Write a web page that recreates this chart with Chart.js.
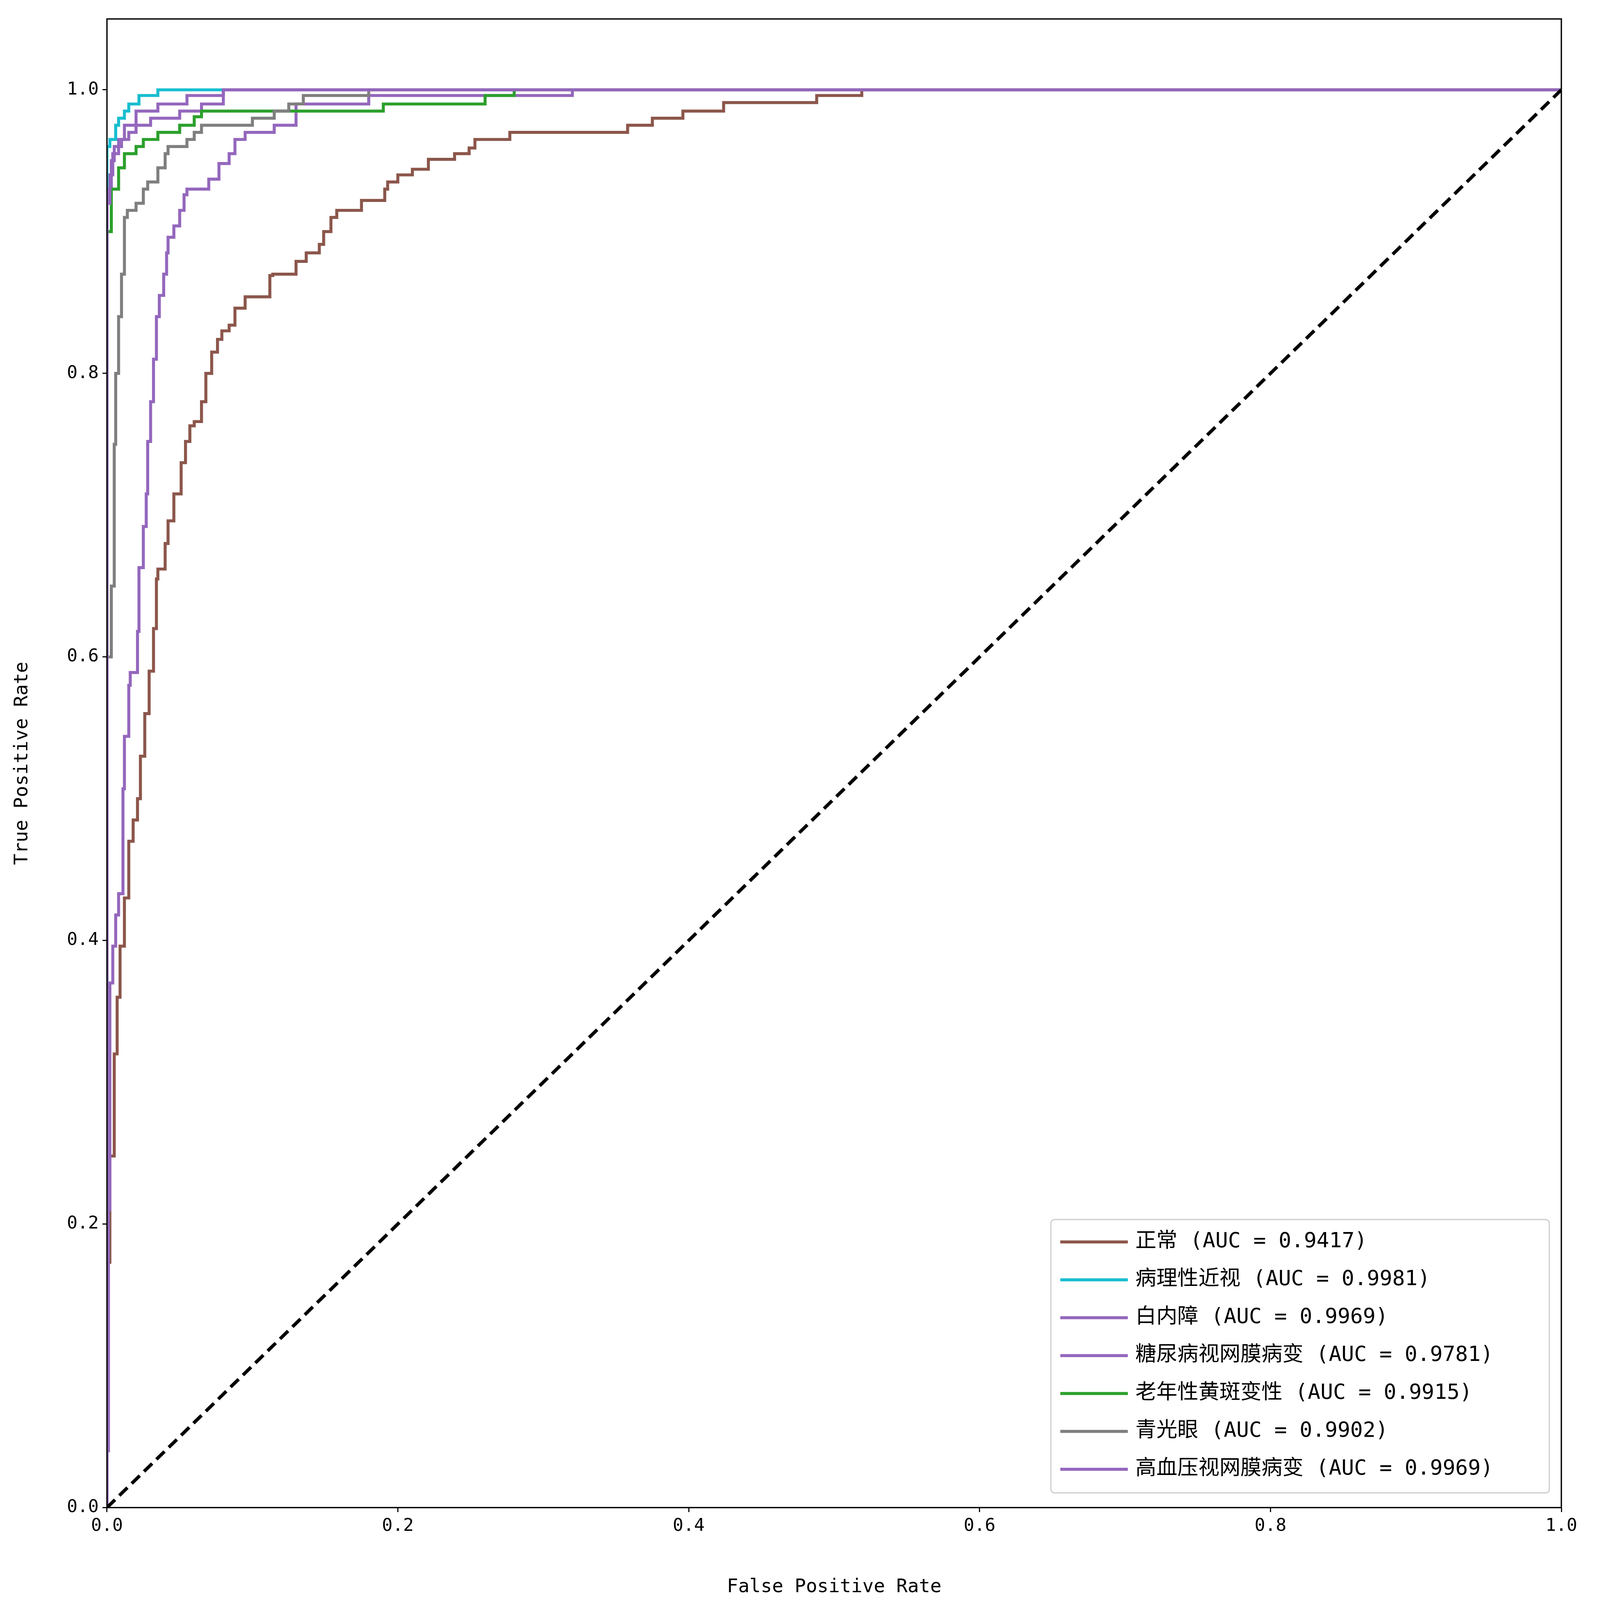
<!DOCTYPE html>
<html>
<head>
<meta charset="utf-8">
<script src="https://cdn.jsdelivr.net/npm/chart.js@4"></script>
<style>
  html, body { margin: 0; padding: 0; background: white; overflow: hidden; }
  canvas { display: block; }
</style>
</head>
<body>
<canvas id="myChart"></canvas>
<script>
// ROC points: [fpr, tpr]
const rocData = {
    '正常': { auc: 0.9417, color: '#8c564b', pts: [
        [0,0],[0.002,0.173],[0.005,0.248],[0.007,0.32],[0.009,0.36],[0.012,0.396],[0.015,0.43],[0.018,0.47],
        [0.021,0.485],[0.023,0.5],[0.026,0.53],[0.029,0.56],[0.032,0.59],[0.034,0.62],[0.035,0.655],
        [0.04,0.662],[0.042,0.68],[0.046,0.696],[0.051,0.715],[0.054,0.737],[0.057,0.752],[0.06,0.763],
        [0.065,0.766],[0.068,0.78],[0.072,0.8],[0.076,0.815],[0.079,0.824],[0.084,0.83],[0.088,0.834],
        [0.095,0.846],[0.112,0.854],[0.114,0.869],[0.13,0.87],[0.137,0.879],[0.146,0.885],[0.149,0.891],
        [0.154,0.9],[0.158,0.91],[0.175,0.915],[0.191,0.922],[0.193,0.93],[0.2,0.935],[0.21,0.94],
        [0.221,0.944],[0.239,0.951],[0.249,0.955],[0.253,0.959],[0.277,0.965],[0.358,0.97],[0.375,0.975],
        [0.396,0.98],[0.424,0.985],[0.488,0.991],[0.519,0.996],[0.807,1.0],[1,1]
    ]},
    '病理性近视': { auc: 0.9981, color: '#17becf', pts: [
        [0,0],[0,0.93],[0.002,0.96],[0.006,0.965],[0.008,0.975],[0.012,0.98],[0.015,0.985],
        [0.022,0.99],[0.035,0.996],[0.113,1.0],[1,1]
    ]},
    '白内障': { auc: 0.9969, color: '#9467bd', pts: [
        [0,0],[0,0.91],[0.003,0.93],[0.005,0.95],[0.01,0.96],[0.015,0.965],[0.02,0.97],[0.03,0.975],
        [0.05,0.98],[0.065,0.985],[0.08,0.99],[0.155,1.0],[1,1]
    ]},
    '糖尿病视网膜病变': { auc: 0.9781, color: '#9467bd', pts: [
        [0,0],[0.001,0.04],[0.002,0.21],[0.004,0.37],[0.006,0.396],[0.008,0.418],[0.011,0.433],
        [0.012,0.507],[0.015,0.544],[0.016,0.58],[0.021,0.589],[0.022,0.618],[0.025,0.663],[0.027,0.692],
        [0.028,0.715],[0.03,0.752],[0.032,0.78],[0.034,0.81],[0.036,0.84],[0.039,0.855],[0.041,0.87],
        [0.042,0.885],[0.046,0.896],[0.05,0.904],[0.053,0.915],[0.055,0.926],[0.07,0.93],[0.077,0.937],
        [0.084,0.948],[0.088,0.955],[0.095,0.965],[0.115,0.97],[0.13,0.975],[0.18,0.99],[0.32,0.996],[0.62,1.0],[1,1]
    ]},
    '老年性黄斑变性': { auc: 0.9915, color: '#2ca02c', pts: [
        [0,0],[0,0.66],[0.003,0.9],[0.008,0.93],[0.012,0.945],[0.02,0.955],[0.025,0.96],[0.035,0.965],
        [0.05,0.97],[0.06,0.975],[0.065,0.981],[0.19,0.985],[0.26,0.99],[0.28,0.996],[0.62,1.0],[1,1]
    ]},
    '青光眼': { auc: 0.9902, color: '#7f7f7f', pts: [
        [0,0],[0,0.42],[0.003,0.6],[0.005,0.65],[0.006,0.75],[0.008,0.8],[0.01,0.84],[0.012,0.87],
        [0.014,0.91],[0.02,0.915],[0.025,0.92],[0.028,0.93],[0.035,0.935],[0.04,0.945],[0.042,0.955],
        [0.055,0.96],[0.06,0.965],[0.065,0.97],[0.1,0.975],[0.115,0.98],[0.125,0.985],[0.135,0.99],
        [0.18,0.996],[0.32,1.0],[1,1]
    ]},
    '高血压视网膜病变': { auc: 0.9969, color: '#9467bd', pts: [
        [0,0],[0,0.8],[0.002,0.92],[0.004,0.94],[0.008,0.955],[0.012,0.965],[0.02,0.975],
        [0.035,0.985],[0.055,0.99],[0.08,0.996],[0.22,1.0],[1,1]
    ]}
};

// size everything from the actual window so the figure always fits
const W = window.innerWidth, H = window.innerHeight;
const sx = W / 4263, sy = H / 4138, s = Math.min(sx, sy);
const canvas = document.getElementById('myChart');
canvas.width = W;
canvas.height = H;

const drawOrder = [7, 6, 5, 4, 3, 2, 1];
const datasets = Object.entries(rocData).map(([name, d], i) => ({
    label: name + ' (AUC = ' + d.auc.toFixed(4) + ')',
    data: d.pts.map(p => ({ x: p[0], y: p[1] })),
    borderColor: d.color,
    borderWidth: 8 * s,
    pointRadius: 0,
    showLine: true,
    stepped: 'after',
    fill: false,
    order: drawOrder[i]
}));

// chance line
datasets.push({
    label: '_diag',
    data: [{ x: 0, y: 0 }, { x: 1, y: 1 }],
    borderColor: 'black',
    borderWidth: 9 * s,
    borderDash: [30 * s, 16 * s],
    pointRadius: 0,
    showLine: true,
    order: 0
});

const FONT = "'DejaVu Sans Mono', 'Noto Sans CJK SC', monospace";

// frame + legend in the lower right corner
const framePlugin = {
    id: 'framePlugin',
    afterDraw(chart) {
        const ctx = chart.ctx;
        const a = chart.chartArea;
        ctx.save();
        ctx.strokeStyle = 'black';
        ctx.lineWidth = 3.5 * s;
        ctx.strokeRect(a.left, a.top, a.right - a.left, a.bottom - a.top);

        const items = chart.data.datasets.filter(d => d.label !== '_diag');
        const boxX = 2800 * sx, boxY = 3154 * sy, boxW = 1328 * sx, boxH = 707 * sy;
        ctx.fillStyle = 'rgba(255,255,255,0.8)';
        ctx.strokeStyle = '#cccccc';
        ctx.lineWidth = 3 * s;
        ctx.beginPath();
        ctx.roundRect(boxX, boxY, boxW, boxH, 10 * s);
        ctx.fill();
        ctx.stroke();
        ctx.font = (56 * s) + "px " + FONT;
        ctx.textBaseline = 'middle';
        items.forEach((d, i) => {
            const y = boxY + 58 * sy + i * 98 * sy;
            ctx.strokeStyle = d.borderColor;
            ctx.lineWidth = 8 * s;
            ctx.beginPath();
            ctx.moveTo(boxX + 25 * sx, y);
            ctx.lineTo(boxX + 205 * sx, y);
            ctx.stroke();
            ctx.fillStyle = 'black';
            ctx.fillText(d.label, boxX + 225 * sx, y);
        });
        ctx.restore();
    }
};

const fixedTicks = vals => scale => { scale.ticks = vals.map(v => ({ value: v })); };

const config = {
    type: 'scatter',
    data: { datasets: datasets },
    options: {
        responsive: false,
        animation: false,
        devicePixelRatio: 1,
        layout: { padding: { left: 0, right: 103 * sx, top: 49 * sy, bottom: 0 } },
        scales: {
            x: {
                type: 'linear', min: 0, max: 1,
                afterBuildTicks: fixedTicks([0, 0.2, 0.4, 0.6, 0.8, 1.0]),
                afterFit: sc => { sc.height = (4138 - 3899) * sy; },
                grid: { drawOnChartArea: false, tickLength: 12 * s, tickWidth: 3 * s, color: 'black' },
                border: { display: false },
                ticks: { color: 'black', font: { size: 47 * s, family: FONT }, padding: 10 * s,
                         maxRotation: 0, callback: v => v.toFixed(1) },
                title: { display: true, text: 'False Positive Rate', color: 'black',
                         font: { size: 50 * s, family: FONT }, padding: { top: 10 * s } }
            },
            y: {
                type: 'linear', min: 0, max: 1.05,
                afterBuildTicks: fixedTicks([0, 0.2, 0.4, 0.6, 0.8, 1.0]),
                afterFit: sc => { sc.width = 285 * sx; },
                grid: { drawOnChartArea: false, tickLength: 12 * s, tickWidth: 3 * s, color: 'black' },
                border: { display: false },
                ticks: { color: 'black', font: { size: 47 * s, family: FONT }, padding: 10 * s,
                         callback: v => v.toFixed(1) },
                title: { display: true, text: 'True Positive Rate', color: 'black',
                         font: { size: 50 * s, family: FONT }, padding: { top: 30 * s, bottom: 10 * s } }
            }
        },
        plugins: {
            legend: { display: false },
            tooltip: { enabled: false }
        }
    },
    plugins: [framePlugin]
};

new Chart(canvas.getContext('2d'), config);
</script>
</body>
</html>
